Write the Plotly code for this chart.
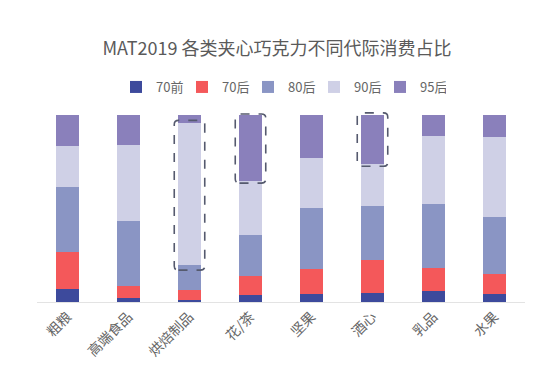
import plotly.graph_objects as go

categories = ["粗粮", "高端食品", "烘焙制品", "花/茶", "坚果", "酒心", "乳品", "水果"]
series_names = ["70前", "70后", "80后", "90后", "95后"]
v70qian = [6.8, 2.1, 0.9, 3.6, 4.4, 5.0, 5.9, 4.4]
v70hou = [19.9, 6.2, 5.7, 10.3, 13.0, 17.6, 12.5, 10.3]
v80hou = [34.7, 35.2, 13.3, 22.1, 32.7, 28.5, 33.8, 30.6]
v90hou = [21.7, 40.4, 75.6, 28.5, 26.9, 22.8, 36.3, 42.7]
v95hou = [16.9, 16.1, 4.5, 35.5, 23.0, 26.1, 11.5, 12.0]
series_values = [v70qian, v70hou, v80hou, v90hou, v95hou]
colors = ["#3d4a9c", "#f4585a", "#8a95c4", "#cfd0e6", "#8a80bb"]

# highlighted segments: (category index, y from, y to)
highlights = [(2, 17.0, 97.0), (3, 63.5, 100.4), (5, 72.5, 101.0)]

fig = go.Figure()
for name, vals, col in zip(series_names, series_values, colors):
    fig.add_trace(go.Bar(name=name, x=categories, y=vals, marker_color=col,
                         marker_line_width=0, hoverinfo="skip"))

def rounded_rect(x0, x1, y0, y1, rx, ry):
    return (f"M {x0+rx},{y0} L {x1-rx},{y0} Q {x1},{y0} {x1},{y0+ry} "
            f"L {x1},{y1-ry} Q {x1},{y1} {x1-rx},{y1} "
            f"L {x0+rx},{y1} Q {x0},{y1} {x0},{y1-ry} "
            f"L {x0},{y0+ry} Q {x0},{y0} {x0+rx},{y0} Z")

for idx, y0, y1 in highlights:
    fig.add_shape(type="path", xref="x", yref="y",
                  path=rounded_rect(idx - 0.25, idx + 0.25, y0, y1, 0.07, 2.2),
                  line=dict(color="#555a6e", width=1.6, dash="dash"),
                  fillcolor="rgba(0,0,0,0)", layer="above")

fig.update_layout(
    barmode="stack",
    bargap=0.61,
    width=554, height=390,
    margin=dict(l=37, r=29, t=110.5, b=88, autoexpand=False),
    paper_bgcolor="white", plot_bgcolor="white",
    font=dict(family="Noto Sans CJK SC, Noto Sans, sans-serif", color="#666666", size=13),
    title=dict(text="MAT2019 各类夹心巧克力不同代际消费占比", x=0.5, xanchor="center",
               y=1 - 49 / 390, yanchor="middle", yref="container",
               font=dict(size=18, color="#5a5a5a")),
    legend=dict(orientation="h", x=0.5, xanchor="center", y=1 - 87 / 390,
                yref="container", yanchor="middle",
                font=dict(size=13, color="#666666"), itemwidth=30,
                entrywidth=21, entrywidthmode="pixels",
                itemclick=False, traceorder="normal"),
    showlegend=True,
)
fig.update_xaxes(showline=True, linecolor="#e3e3e3", linewidth=1, tickangle=-45,
                 ticks="", showgrid=False, automargin=False,
                 tickfont=dict(size=14, color="#666666"))
fig.update_yaxes(range=[0, 102], visible=False, showgrid=False)

fig.write_html("out.html", config={"displayModeBar": False, "staticPlot": True},
               post_script="document.body.style.margin='0';document.body.style.padding='0';")
